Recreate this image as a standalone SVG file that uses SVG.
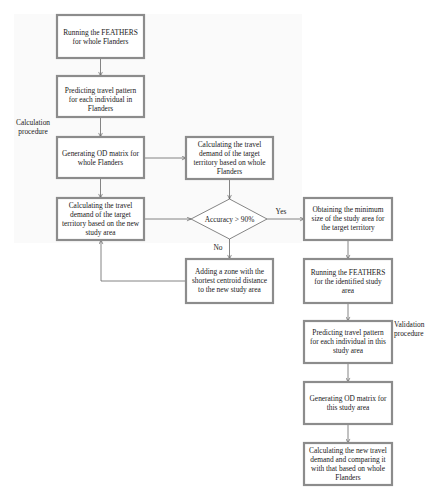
<svg xmlns="http://www.w3.org/2000/svg" width="442" height="500" viewBox="0 0 442 500">
<defs>
<style>
text{font-family:"Liberation Serif","Times New Roman",serif;font-size:7.4px;fill:#1a1a1a;text-anchor:middle}
.left{text-anchor:start}
.box{fill:#fff;stroke:#8c8c8c;stroke-width:2.2}
.dia{fill:#fff;stroke:#666;stroke-width:0.8}
.conn{fill:none;stroke:#666;stroke-width:0.8;marker-end:url(#arr)}
</style>
<marker id="arr" viewBox="0 0 8 8" refX="7.5" refY="4" markerWidth="5" markerHeight="5" markerUnits="userSpaceOnUse" orient="auto">
<path d="M1,1 L7.5,4 L1,7" fill="none" stroke="#555" stroke-width="1"/>
</marker>
</defs>
<rect width="442" height="500" fill="#fff"/>
<rect x="14" y="14" width="288" height="229" fill="#fafafa"/>

<g id="connectors">
<line class="conn" x1="100.5" y1="58" x2="100.5" y2="76"/>
<line class="conn" x1="100.5" y1="117" x2="100.5" y2="137"/>
<line class="conn" x1="100.5" y1="178" x2="100.5" y2="198"/>
<line class="conn" x1="144" y1="158" x2="186" y2="158"/>
<line class="conn" x1="229.5" y1="179" x2="229.5" y2="199"/>
<line class="conn" x1="144" y1="219" x2="191" y2="219"/>
<line class="conn" x1="267" y1="219" x2="304" y2="219"/>
<line class="conn" x1="229.5" y1="239" x2="229.5" y2="259"/>
<polyline class="conn" points="186,281 101,281 101,240"/>
<line class="conn" x1="348" y1="240" x2="348" y2="259"/>
<line class="conn" x1="348" y1="303" x2="348" y2="321"/>
<line class="conn" x1="348" y1="363" x2="348" y2="382"/>
<line class="conn" x1="348" y1="424" x2="348" y2="443"/>
<text x="281" y="214">Yes</text>
<text x="218" y="250">No</text>
</g>

<g id="lbl-calc">
<text x="33" y="125">Calculation</text>
<text x="33" y="134">procedure</text>
</g>
<g id="lbl-valid">
<text class="left" x="394" y="327">Validation</text>
<text class="left" x="394" y="336">procedure</text>
</g>

<g id="n1">
<rect class="box" x="57" y="15" width="87" height="43"/>
<text x="100.5" y="35">Running the FEATHERS</text>
<text x="100.5" y="44">for whole Flanders</text>
</g>
<g id="n2">
<rect class="box" x="57" y="76" width="87" height="41"/>
<text x="100.5" y="93">Predicting travel pattern</text>
<text x="100.5" y="102">for each individual in</text>
<text x="100.5" y="111">Flanders</text>
</g>
<g id="n3">
<rect class="box" x="57" y="137" width="87" height="41"/>
<text x="100.5" y="156">Generating OD matrix for</text>
<text x="100.5" y="165">whole Flanders</text>
</g>
<g id="n4">
<rect class="box" x="57" y="198" width="87" height="42"/>
<text x="100.5" y="208">Calculating the travel</text>
<text x="100.5" y="217">demand of the target</text>
<text x="100.5" y="226">territory based on the new</text>
<text x="100.5" y="235">study area</text>
</g>
<g id="n5">
<rect class="box" x="186" y="137" width="87" height="42"/>
<text x="229.5" y="147">Calculating the travel</text>
<text x="229.5" y="156">demand of the target</text>
<text x="229.5" y="165">territory based on whole</text>
<text x="229.5" y="174">Flanders</text>
</g>
<g id="n6">
<polygon class="dia" points="229.5,199 267,219 229.5,239 191,219"/>
<text x="229.5" y="221.5">Accuracy &gt; 90%</text>
</g>
<g id="n7">
<rect class="box" x="186" y="259" width="87" height="44"/>
<text x="229.5" y="274">Adding a zone with the</text>
<text x="229.5" y="283">shortest centroid distance</text>
<text x="229.5" y="292">to the new study area</text>
</g>
<g id="n8">
<rect class="box" x="304" y="198" width="88" height="42"/>
<text x="348" y="212">Obtaining the minimum</text>
<text x="348" y="221">size of the study area for</text>
<text x="348" y="230">the target territory</text>
</g>
<g id="n9">
<rect class="box" x="304" y="259" width="88" height="44"/>
<text x="348" y="275">Running the FEATHERS</text>
<text x="348" y="284">for the identified study</text>
<text x="348" y="293">area</text>
</g>
<g id="n10">
<rect class="box" x="304" y="321" width="88" height="42"/>
<text x="348" y="335">Predicting travel pattern</text>
<text x="348" y="344">for each individual in this</text>
<text x="348" y="353">study area</text>
</g>
<g id="n11">
<rect class="box" x="304" y="382" width="88" height="42"/>
<text x="348" y="401">Generating OD matrix for</text>
<text x="348" y="410">this study area</text>
</g>
<g id="n12">
<rect class="box" x="304" y="443" width="88" height="42"/>
<text x="348" y="453">Calculating the new travel</text>
<text x="348" y="462">demand and comparing it</text>
<text x="348" y="471">with that based on whole</text>
<text x="348" y="480">Flanders</text>
</g>
</svg>
